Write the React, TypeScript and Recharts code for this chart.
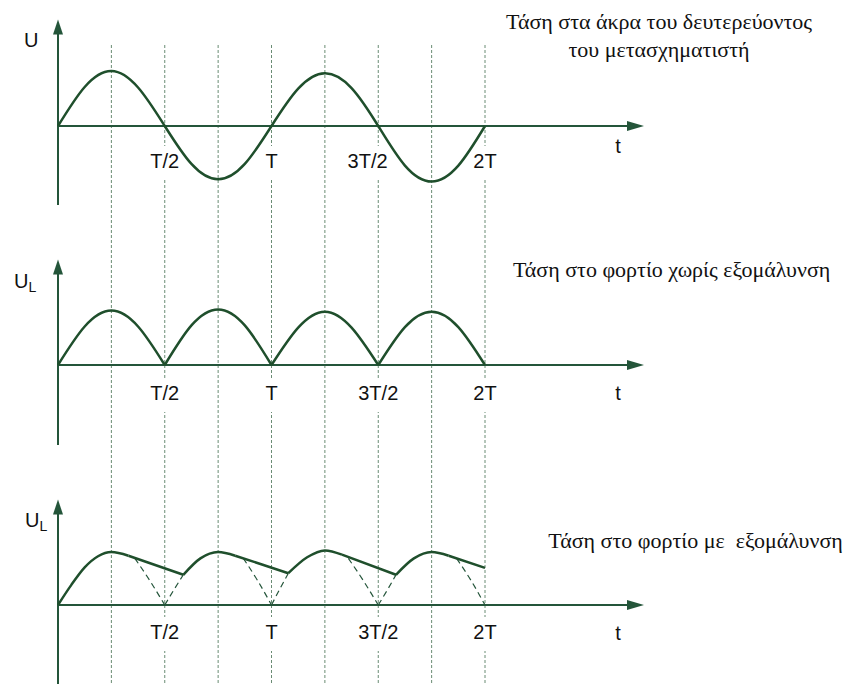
import { LineChart, Line, XAxis, YAxis, ReferenceLine, ReferenceDot } from "recharts";

// time in periods T, one sample every T/8
const tEighths = [0, 0.125, 0.25, 0.375, 0.5, 0.625, 0.75, 0.875, 1, 1.125, 1.25, 1.375, 1.5, 1.625, 1.75, 1.875, 2];

// secondary voltage U (1 = peak)
const secondaryU = [0, 0.71, 1, 0.7, 0, -0.69, -0.97, -0.69, 0, 0.68, 0.96, 0.69, 0, -0.72, -1.01, -0.72, 0];

// load voltage, no smoothing: odd and even half waves (split so the cusps stay sharp)
const loadOddHalves = [0, 0.7, 0.99, 0.7, 0, null, null, null, 0, 0.68, 0.97, 0.68, 0, null, null, null, null];
const loadEvenHalves = [null, null, null, null, 0, 0.72, 1.01, 0.72, 0, null, null, null, 0, 0.69, 0.97, 0.69, 0];

// load voltage with smoothing, [t, U]
type Pt = [number, number | null];
const chargeArcs: Pt[] = [
  [0, 0], [0.0625, 0.38], [0.125, 0.71], [0.1875, 0.92], [0.25, 1], [0.33, 0.93], [0.45, null],
  [0.587, 0.57], [0.667, 0.88], [0.75, 1], [0.83, 0.93], [0.95, null],
  [1.079, 0.6], [1.167, 0.9], [1.25, 1.03], [1.33, 0.95], [1.45, null],
  [1.583, 0.57], [1.667, 0.88], [1.75, 1], [1.83, 0.93],
];
const dischargeRamps: Pt[] = [
  [0.33, 0.93], [0.587, 0.57], [0.7, null],
  [0.83, 0.93], [1.079, 0.6], [1.2, null],
  [1.33, 0.95], [1.583, 0.57], [1.7, null],
  [1.83, 0.93], [2, 0.7],
];
// dashed rest of the rectified wave under the smoothed curve
const ghostFalls: Pt[] = [
  [0.36, 0.88], [0.43, 0.46], [0.5, 0], [0.55, null],
  [0.868, 0.88], [0.935, 0.46], [1, 0], [1.05, null],
  [1.36, 0.88], [1.43, 0.46], [1.5, 0], [1.55, null],
  [1.867, 0.88], [1.935, 0.46], [2, 0],
];
const ghostRises: Pt[] = [
  [0.5, 0], [0.545, 0.3], [0.587, 0.57], [0.7, null],
  [1, 0], [1.04, 0.31], [1.079, 0.6], [1.2, null],
  [1.5, 0], [1.545, 0.3], [1.583, 0.57],
];

const quarterMarks = [0.25, 0.5, 0.75, 1, 1.25, 1.5, 1.75, 2];
const tickLabels = ["T/2", "T", "3T/2", "2T"];
const tickTimes = [0.5, 1, 1.5, 2];
const topTickTimes = [0.5, 1, 1.45, 2];

const titles = [
  ["Τάση στα άκρα του δευτερεύοντος", "του μετασχηματιστή"],
  ["Τάση στο φορτίο χωρίς εξομάλυνση"],
  ["Τάση στο φορτίο με  εξομάλυνση"],
];

// layout
const W = 856;
const H = 684;
const X0 = 58;
const PX_PER_T = 213.5;
const AXIS_END_T = (644 - X0) / PX_PER_T;

const panels = [
  { id: "u", zero: 126, amp: 55, top: 19.5, bottom: 205, tickY: 168, tY: 153, titleT: 2.815, titleY: [29, 57] },
  { id: "ul", zero: 365, amp: 55, top: 259.5, bottom: 445, tickY: 400, tY: 400, titleT: 2.874, titleY: [277] },
  { id: "uls", zero: 605, amp: 53, top: 499.5, bottom: H, tickY: 639, tY: 640, titleT: 2.986, titleY: [548] },
];

const CURVE = "#1f4f2c";
const AXIS = "#24553a";
const GRID = "#6a8c74";
const SANS = "'Liberation Sans', Arial, sans-serif";
const SERIF = "'Liberation Serif', 'Times New Roman', serif";

const yDomain = (zero: number, amp: number) => [-(H - zero) / amp, zero / amp];

const rows = (vals: (number | null)[]) => tEighths.map((t, i) => ({ t, v: vals[i] }));
const pts = (list: Pt[]) => list.map(([t, v]) => ({ t, v }));

const arrowShape = (headLen: number, headHalf: number) => (p: any) => {
  const { x1, y1, x2, y2 } = p;
  const len = Math.hypot(x2 - x1, y2 - y1) || 1;
  const ux = (x2 - x1) / len;
  const uy = (y2 - y1) / len;
  const bx = x2 - ux * headLen;
  const by = y2 - uy * headLen;
  const head = `${x2},${y2} ${bx - uy * headHalf},${by + ux * headHalf} ${bx + uy * headHalf},${by - ux * headHalf}`;
  return (
    <g>
      <line x1={x1} y1={y1} x2={bx + ux} y2={by + uy} stroke={AXIS} strokeWidth={2} />
      <polygon points={head} fill={AXIS} />
    </g>
  );
};

// white gap in a dashed guide line behind a tick label
const guideGap = (p: any) => <rect x={p.cx - 3} y={p.cy - 22} width={6} height={34} fill="#fff" />;

const plainText = (text: string, font: string, size: number, anchor = "middle") => (p: any) => (
  <text
    x={p.cx}
    y={p.cy}
    textAnchor={anchor}
    fontSize={size}
    fill="#111"
    style={{ whiteSpace: "pre", fontFamily: font }}
  >
    {text}
  </text>
);

const subscriptLabel = (main: string, sub: string) => (p: any) => (
  <text x={p.cx} y={p.cy} textAnchor="start" fontSize={20} fill="#111" style={{ fontFamily: SANS }}>
    {main}
    <tspan fontSize={14} dy={4}>{sub}</tspan>
  </text>
);

const lineProps = {
  xAxisId: "t",
  dataKey: "v",
  dot: false,
  activeDot: false,
  isAnimationActive: false,
  connectNulls: false,
};

export default function App() {
  return (
    <div style={{ position: "absolute", left: 0, top: 0, width: W, height: H, background: "#fff" }}>
      <LineChart width={W} height={H} margin={{ top: 0, right: 0, bottom: 0, left: 0 }}>
        <XAxis
          xAxisId="t"
          type="number"
          dataKey="t"
          domain={[-X0 / PX_PER_T, (W - X0) / PX_PER_T]}
          allowDataOverflow
          hide
        />
        <YAxis yAxisId="px" type="number" domain={[0, H]} reversed allowDataOverflow hide />
        {panels.map((p) => (
          <YAxis key={p.id} yAxisId={p.id} type="number" domain={yDomain(p.zero, p.amp)} allowDataOverflow hide />
        ))}

        {quarterMarks.map((q) => (
          <ReferenceLine
            key={`grid-${q}`}
            xAxisId="t"
            yAxisId="px"
            segment={[{ x: q, y: 45 }, { x: q, y: H }]}
            stroke={GRID}
            strokeWidth={1}
            strokeDasharray="3 2"
          />
        ))}

        {panels.map((p) =>
          tickTimes.map((tt) => (
            <ReferenceDot
              key={`gap-${p.id}-${tt}`}
              xAxisId="t"
              yAxisId="px"
              x={tt}
              y={p.tickY}
              shape={guideGap}
            />
          ))
        )}

        {panels.map((p) => (
          <ReferenceLine
            key={`xaxis-${p.id}`}
            xAxisId="t"
            yAxisId="px"
            segment={[{ x: 0, y: p.zero }, { x: AXIS_END_T, y: p.zero }]}
            shape={arrowShape(17, 5)}
          />
        ))}
        {panels.map((p) => (
          <ReferenceLine
            key={`yaxis-${p.id}`}
            xAxisId="t"
            yAxisId="px"
            segment={[{ x: 0, y: p.bottom }, { x: 0, y: p.top }]}
            shape={arrowShape(15, 5)}
          />
        ))}

        <Line {...lineProps} yAxisId="u" data={rows(secondaryU)} type="natural" stroke={CURVE} strokeWidth={2.5} />

        <Line {...lineProps} yAxisId="ul" data={rows(loadOddHalves)} type="natural" stroke={CURVE} strokeWidth={2.5} />
        <Line {...lineProps} yAxisId="ul" data={rows(loadEvenHalves)} type="natural" stroke={CURVE} strokeWidth={2.5} />

        <Line {...lineProps} yAxisId="uls" data={pts(ghostFalls)} type="monotone" stroke={AXIS} strokeWidth={1.2} strokeDasharray="6 4" />
        <Line {...lineProps} yAxisId="uls" data={pts(ghostRises)} type="monotone" stroke={AXIS} strokeWidth={1.2} strokeDasharray="6 4" />
        <Line {...lineProps} yAxisId="uls" data={pts(chargeArcs)} type="monotone" stroke={CURVE} strokeWidth={2.5} />
        <Line {...lineProps} yAxisId="uls" data={pts(dischargeRamps)} type="linear" stroke={CURVE} strokeWidth={2.5} />

        {panels.map((p, pi) =>
          tickLabels.map((label, i) => (
            <ReferenceDot
              key={`tick-${p.id}-${label}`}
              xAxisId="t"
              yAxisId="px"
              x={(pi === 0 ? topTickTimes : tickTimes)[i]}
              y={p.tickY}
              shape={plainText(label, SANS, 20)}
            />
          ))
        )}

        {panels.map((p) => (
          <ReferenceDot
            key={`t-${p.id}`}
            xAxisId="t"
            yAxisId="px"
            x={(618 - X0) / PX_PER_T}
            y={p.tY}
            shape={plainText("t", SANS, 20)}
          />
        ))}

        <ReferenceDot xAxisId="t" yAxisId="px" x={(24 - X0) / PX_PER_T} y={47} shape={plainText("U", SANS, 20, "start")} />
        <ReferenceDot xAxisId="t" yAxisId="px" x={(14 - X0) / PX_PER_T} y={288} shape={subscriptLabel("U", "L")} />
        <ReferenceDot xAxisId="t" yAxisId="px" x={(25 - X0) / PX_PER_T} y={527} shape={subscriptLabel("U", "L")} />

        {panels.map((p, pi) =>
          titles[pi].map((line, li) => (
            <ReferenceDot
              key={`title-${p.id}-${li}`}
              xAxisId="t"
              yAxisId="px"
              x={p.titleT}
              y={p.titleY[li]}
              shape={plainText(line, SERIF, 22)}
            />
          ))
        )}
      </LineChart>
    </div>
  );
}
